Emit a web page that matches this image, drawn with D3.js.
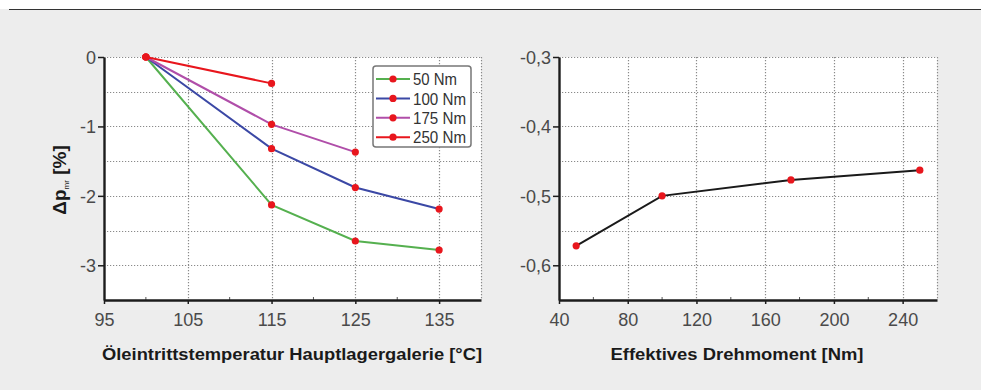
<!DOCTYPE html>
<html>
<head>
<meta charset="utf-8">
<script src="https://cdn.jsdelivr.net/npm/d3@7"></script>
<style>
  body { margin: 0; background: #fff; }
  svg { display: block; }
  text { font-family: "Liberation Sans", Arial, sans-serif; }
</style>
</head>
<body>
<svg id="chart" width="981" height="390"></svg>
<script>
// left panel: temperature sweep, one series per torque
const temps = [100, 115, 125, 135];
const torqueLabels = ["50 Nm", "100 Nm", "175 Nm", "250 Nm"];
const seriesColors = ["#55b04f", "#3b48a5", "#b04ea9", "#e8161d"];
const dp50 = [0, -2.13, -2.65, -2.78];
const dp100 = [0, -1.32, -1.88, -2.19];
const dp175 = [0, -0.97, -1.37];
const dp250 = [0, -0.38];
const tempTicks = [95, 105, 115, 125, 135];
const dpTicks = [0, -1, -2, -3];

// right panel: effective torque
const torques = [50, 100, 175, 250];
const dpTorque = [-0.572, -0.5, -0.477, -0.463];
const torqueTicks = [40, 80, 120, 160, 200, 240];
const dpTorqueTicks = [-0.3, -0.4, -0.5, -0.6];

const svg = d3.select("#chart");

svg.append("rect").attr("x", 0).attr("y", 9).attr("width", 981).attr("height", 381).attr("fill", "#ededed");
svg.append("line").attr("x1", 9).attr("x2", 981).attr("y1", 9.5).attr("y2", 9.5)
  .attr("stroke", "#333").attr("stroke-width", 1);

const plotTop = 57, plotBottom = 300;

function panel(opts) {
  const x = d3.scaleLinear().domain(opts.xDomain).range([opts.left, opts.right]);
  const y = d3.scaleLinear().domain(opts.yDomain).range([plotBottom, plotTop]);
  const g = svg.append("g");

  g.append("rect").attr("x", opts.left).attr("y", plotTop)
    .attr("width", opts.right - opts.left).attr("height", plotBottom - plotTop).attr("fill", "#fff");

  // dotted grid
  const grid = g.append("g").attr("stroke", "#8a8a8a").attr("stroke-width", 1.2)
    .attr("stroke-dasharray", "1.2,1.8");
  grid.selectAll(".gx").data(opts.xGrid).join("line")
    .attr("x1", d => Math.round(x(d)) + 0.5).attr("x2", d => Math.round(x(d)) + 0.5)
    .attr("y1", plotTop).attr("y2", plotBottom);
  grid.selectAll(".gy").data(opts.yGrid).join("line")
    .attr("y1", d => Math.round(y(d)) + 0.5).attr("y2", d => Math.round(y(d)) + 0.5)
    .attr("x1", opts.left).attr("x2", opts.right);

  // minor ticks on the bottom axis
  g.append("g").attr("stroke", "#555").attr("stroke-width", 1)
    .selectAll("line").data(opts.xMinor).join("line")
    .attr("x1", d => x(d)).attr("x2", d => x(d))
    .attr("y1", plotBottom).attr("y2", plotBottom - 3);

  // axes
  const xAxis = d3.axisBottom(x).tickValues(opts.xTicks).tickSize(4).tickSizeOuter(0)
    .tickFormat(opts.xFormat);
  const yAxis = d3.axisLeft(y).tickValues(opts.yTicks).tickSize(6).tickSizeOuter(0)
    .tickFormat(opts.yFormat);

  const gx = g.append("g").attr("transform", `translate(0,${plotBottom})`).call(xAxis);
  const gy = g.append("g").attr("transform", `translate(${opts.left},0)`).call(yAxis);
  [gx, gy].forEach(a => {
    a.select(".domain").attr("stroke", "#1c1c1c").attr("stroke-width", 2.4);
    a.selectAll(".tick line").attr("stroke", "#1c1c1c").attr("stroke-width", 1.5);
    a.selectAll(".tick text").attr("fill", "#4a4a4a").style("font-size", "18px")
      .style("font-family", "'Liberation Sans', Arial, sans-serif");
  });
  gx.selectAll(".tick text").attr("dy", "0.71em").attr("y", 13);
  gy.selectAll(".tick text").attr("x", -8).attr("dy", "0.36em");

  g.append("text").attr("x", opts.titleX).attr("y", 360)
    .attr("text-anchor", "middle").attr("font-weight", "bold").attr("fill", "#1a1a1a")
    .style("font-size", "17px")
    .attr("textLength", opts.titleW).attr("lengthAdjust", "spacingAndGlyphs")
    .text(opts.title);

  return { x, y, g };
}

const L = panel({
  left: 104, right: 481, xDomain: [95, 140], yDomain: [-3.5, 0],
  xGrid: [105, 115, 125, 135, 140], yGrid: [0, -0.5, -1, -1.5, -2, -2.5, -3],
  xMinor: [100, 110, 120, 130], xTicks: tempTicks, yTicks: dpTicks,
  xFormat: d3.format("d"), yFormat: d => d3.format("d")(d).replace("−", "-"),
  title: "Öleintrittstemperatur Hauptlagergalerie [°C]", titleX: 292, titleW: 380
});

const R = panel({
  left: 559, right: 937, xDomain: [40, 260], yDomain: [-0.65, -0.3],
  xGrid: [80, 120, 160, 200, 240, 260], yGrid: [-0.3, -0.35, -0.4, -0.45, -0.5, -0.55, -0.6],
  xMinor: [60, 100, 140, 180, 220], xTicks: torqueTicks, yTicks: dpTorqueTicks,
  xFormat: d3.format("d"), yFormat: d => d.toFixed(1).replace(".", ",").replace("−", "-"),
  title: "Effektives Drehmoment [Nm]", titleX: 737, titleW: 253
});

// left series
const leftSeries = [dp50, dp100, dp175, dp250];
const lineL = d3.line().x((d, i) => L.x(temps[i])).y(d => L.y(d));
leftSeries.forEach((s, k) => {
  L.g.append("path").datum(s).attr("d", lineL).attr("fill", "none")
    .attr("stroke", seriesColors[k]).attr("stroke-width", 2);
});
leftSeries.forEach(s => {
  L.g.selectAll(null).data(s).join("circle")
    .attr("cx", (d, i) => L.x(temps[i])).attr("cy", d => L.y(d)).attr("r", 3.6)
    .attr("fill", "#e8161d");
});

// legend
const lg = L.g.append("g").attr("transform", "translate(373,66)");
lg.append("rect").attr("width", 98).attr("height", 81).attr("rx", 3)
  .attr("fill", "#fff").attr("stroke", "#777").attr("stroke-width", 1.5);
torqueLabels.forEach((t, k) => {
  const yy = 13 + k * 19.4;
  lg.append("line").attr("x1", 3).attr("x2", 37).attr("y1", yy).attr("y2", yy)
    .attr("stroke", seriesColors[k]).attr("stroke-width", 2);
  lg.append("circle").attr("cx", 20).attr("cy", yy).attr("r", 3.6).attr("fill", "#e8161d");
  lg.append("text").attr("x", 40).attr("y", yy).attr("dy", "0.36em")
    .attr("fill", "#333").style("font-size", "17px")
    .attr("textLength", t.length === 5 ? 44 : 53).attr("lengthAdjust", "spacingAndGlyphs")
    .text(t);
});

// y title
const yt = svg.append("text").attr("transform", "translate(66,180) rotate(-90)")
  .attr("text-anchor", "middle").attr("font-weight", "bold").attr("fill", "#1a1a1a")
  .style("font-size", "19px");
yt.append("tspan").text("Δp");
yt.append("tspan").attr("dy", 3).style("font-size", "8px").style("font-weight", "normal").text("mr");
yt.append("tspan").attr("dy", -3).text(" [%]");

// right series
const lineR = d3.line().x((d, i) => R.x(torques[i])).y(d => R.y(d));
R.g.append("path").datum(dpTorque).attr("d", lineR).attr("fill", "none")
  .attr("stroke", "#1a1a1a").attr("stroke-width", 2);
R.g.selectAll(null).data(dpTorque).join("circle")
  .attr("cx", (d, i) => R.x(torques[i])).attr("cy", d => R.y(d)).attr("r", 3.6)
  .attr("fill", "#e8161d");
</script>
</body>
</html>
